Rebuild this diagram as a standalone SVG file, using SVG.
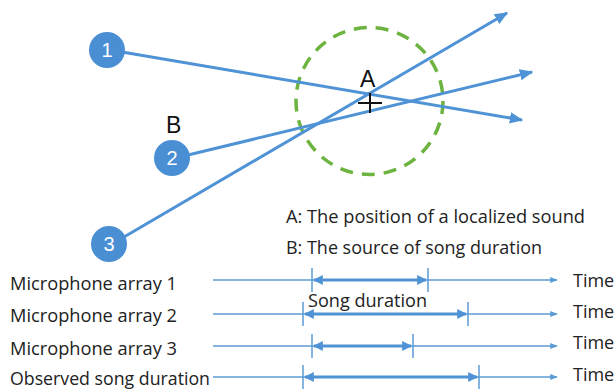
<svg xmlns="http://www.w3.org/2000/svg" width="615" height="392" viewBox="0 0 615 392">
  <style>
    .ray { stroke: #4f93d6; stroke-width: 3; fill: none; }
    .axis { stroke: #5b9bd5; stroke-width: 1.5; fill: none; }
    .dur { stroke: #4f93d6; stroke-width: 2.8; fill: none; }
    .tick { stroke: #5b9bd5; stroke-width: 1.5; }
    .node circle { fill: #4a8fd4; }
    .node text { fill: #ffffff; font-family: "Liberation Sans", Arial, sans-serif; font-size: 20px; text-anchor: middle; }
    .lbl { font-family: "Open Sans", "Liberation Sans", sans-serif; font-size: 18px; fill: #222; }
    .big { font-family: "Liberation Sans", Arial, sans-serif; font-size: 23px; fill: #111; }
  </style>
  <defs>
    <marker id="head" viewBox="0 0 10 10" refX="9" refY="5" markerWidth="4.5" markerHeight="4.5" orient="auto" markerUnits="strokeWidth">
      <path d="M0,0.8 L10,5 L0,9.2 z" fill="#4f93d6"/>
    </marker>
    <marker id="small" viewBox="0 0 10 10" refX="9" refY="5" markerWidth="5" markerHeight="5" orient="auto" markerUnits="strokeWidth">
      <path d="M0,1 L10,5 L0,9 z" fill="#5b9bd5"/>
    </marker>
    <marker id="durEnd" viewBox="0 0 10 10" refX="9" refY="5" markerWidth="3.5" markerHeight="3.5" orient="auto-start-reverse" markerUnits="strokeWidth">
      <path d="M0,0 L10,5 L0,10 z" fill="#4f93d6"/>
    </marker>
  </defs>

  <!-- search area around the localized sound -->
  <circle cx="369.5" cy="101" r="73.5" fill="none" stroke="#6cb33f" stroke-width="3.5" stroke-dasharray="13 9"/>

  <g id="connectors">
    <line class="ray" x1="122" y1="52" x2="522" y2="120" marker-end="url(#head)"/>
    <line class="ray" x1="188" y1="155" x2="532" y2="72" marker-end="url(#head)"/>
    <line class="ray" x1="124" y1="237" x2="507" y2="13" marker-end="url(#head)"/>
  </g>

  <g id="node-1" class="node">
    <circle cx="107" cy="50" r="18"/>
    <text x="107" y="57">1</text>
  </g>
  <g id="node-2" class="node">
    <circle cx="172" cy="158" r="18"/>
    <text x="172" y="165">2</text>
  </g>
  <g id="node-3" class="node">
    <circle cx="109" cy="244" r="18"/>
    <text x="109" y="251">3</text>
  </g>

  <!-- point A and source B -->
  <text class="big" x="360" y="87">A</text>
  <path d="M358,103 H382 M370,93 V113" stroke="#111" stroke-width="2"/>
  <text class="big" x="166" y="133">B</text>

  <text class="lbl" x="286" y="223" textLength="299" lengthAdjust="spacingAndGlyphs">A: The position of a localized sound</text>
  <text class="lbl" x="286" y="254" textLength="256" lengthAdjust="spacingAndGlyphs">B: The source of song duration</text>

  <!-- timelines -->
  <g id="timeline-1">
    <text class="lbl" x="10" y="290" textLength="167" lengthAdjust="spacingAndGlyphs">Microphone array 1</text>
    <line class="axis" x1="213" y1="280" x2="557" y2="280" marker-end="url(#small)"/>
    <line class="tick" x1="312" y1="268" x2="312" y2="292"/>
    <line class="tick" x1="428" y1="268" x2="428" y2="292"/>
    <line class="dur" x1="314" y1="280" x2="426" y2="280" marker-start="url(#durEnd)" marker-end="url(#durEnd)"/>
    <text class="lbl" x="573" y="287">Time</text>
  </g>
  <g id="timeline-2">
    <text class="lbl" x="10" y="322" textLength="167" lengthAdjust="spacingAndGlyphs">Microphone array 2</text>
    <line class="axis" x1="213" y1="314" x2="557" y2="314" marker-end="url(#small)"/>
    <line class="tick" x1="303" y1="302" x2="303" y2="326"/>
    <line class="tick" x1="468" y1="302" x2="468" y2="326"/>
    <line class="dur" x1="305" y1="314" x2="466" y2="314" marker-start="url(#durEnd)" marker-end="url(#durEnd)"/>
    <text class="lbl" x="308" y="307" textLength="119" lengthAdjust="spacingAndGlyphs">Song duration</text>
    <text class="lbl" x="573" y="318">Time</text>
  </g>
  <g id="timeline-3">
    <text class="lbl" x="10" y="355" textLength="167" lengthAdjust="spacingAndGlyphs">Microphone array 3</text>
    <line class="axis" x1="213" y1="346" x2="557" y2="346" marker-end="url(#small)"/>
    <line class="tick" x1="312" y1="334" x2="312" y2="358"/>
    <line class="tick" x1="413" y1="334" x2="413" y2="358"/>
    <line class="dur" x1="314" y1="346" x2="411" y2="346" marker-start="url(#durEnd)" marker-end="url(#durEnd)"/>
    <text class="lbl" x="573" y="349">Time</text>
  </g>
  <g id="timeline-4">
    <text class="lbl" x="10" y="385" textLength="200" lengthAdjust="spacingAndGlyphs">Observed song duration</text>
    <line class="axis" x1="213" y1="377" x2="557" y2="377" marker-end="url(#small)"/>
    <line class="tick" x1="303" y1="365" x2="303" y2="389"/>
    <line class="tick" x1="479" y1="365" x2="479" y2="389"/>
    <line class="dur" x1="305" y1="377" x2="477" y2="377" marker-start="url(#durEnd)" marker-end="url(#durEnd)"/>
    <text class="lbl" x="573" y="381">Time</text>
  </g>
</svg>
